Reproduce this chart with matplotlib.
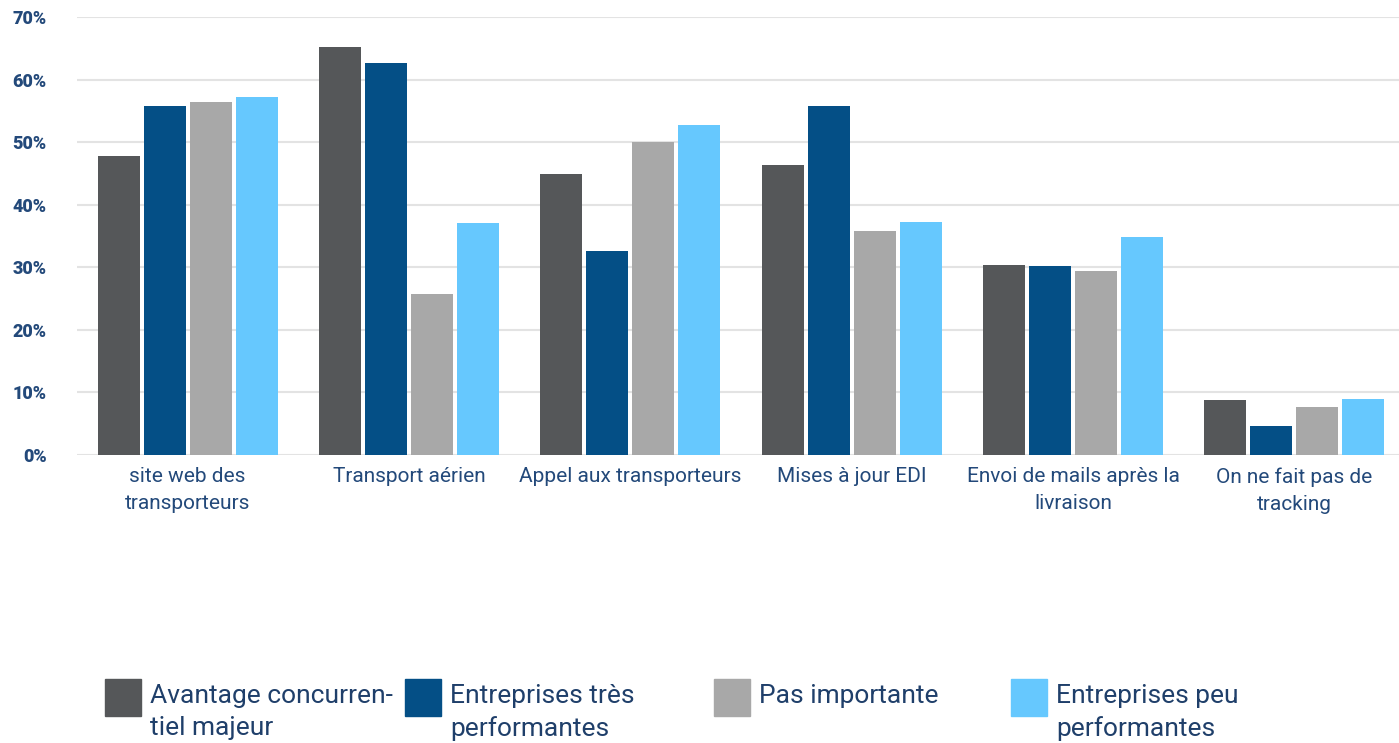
import matplotlib
matplotlib.use("Agg")
import matplotlib.pyplot as plt
import numpy as np
from matplotlib.patches import Rectangle

categories = ["site web des\ntransporteurs", "Transport aérien", "Appel aux transporteurs",
              "Mises à jour EDI", "Envoi de mails après la\nlivraison", "On ne fait pas de\ntracking"]
series_names = ["Avantage concurren-\ntiel majeur", "Entreprises très\nperformantes",
                "Pas importante", "Entreprises peu\nperformantes"]
avantage = [47.8, 65.2, 44.9, 46.4, 30.4, 8.8]
tres_perf = [55.7, 62.7, 32.6, 55.8, 30.2, 4.6]
pas_imp = [56.4, 25.7, 50.0, 35.8, 29.4, 7.7]
peu_perf = [57.2, 37.1, 52.8, 37.2, 34.9, 9.0]
yticks = [0, 10, 20, 30, 40, 50, 60, 70]

colors = ["#555759", "#044f86", "#a8a8a8", "#66c8fe"]
text_color = "#23497a"

W, H = 1399, 743
fig = plt.figure(figsize=(W / 100, H / 100), dpi=100)
left = 77 / W
right = 1405 / W
ax = fig.add_axes([left, (H - 455) / H, right - left, (455 - 17) / H])

x = np.arange(len(categories))
step = 0.208
bw = 0.19
for i, vals in enumerate([avantage, tres_perf, pas_imp, peu_perf]):
    ax.bar(x + (i - 1.5) * step, vals, width=bw, color=colors[i], zorder=3)

ax.set_xlim(-0.5, len(categories) - 0.5)
ax.set_ylim(0, 70)
ax.set_yticks(yticks)
ax.set_yticklabels([f"{v}%" for v in yticks], fontfamily="Roboto", fontweight="heavy",
                   fontsize=13, color=text_color)
ax.set_xticks(x)
ax.set_xticklabels(categories, fontfamily="Roboto", fontweight="normal", fontsize=15,
                   color=text_color, linespacing=1.5)
ax.tick_params(axis="y", length=0, pad=22)
ax.tick_params(axis="x", length=0, pad=9)
ax.grid(axis="y", color="#e3e3e3", linewidth=1.5, zorder=0)
for s in ax.spines.values():
    s.set_visible(False)

# legend
sq_x = [105, 405, 714, 1011]
for i, name in enumerate(series_names):
    fig.patches.append(Rectangle((sq_x[i] / W, (H - 716) / H), 36 / W, 37 / H,
                                 transform=fig.transFigure, color=colors[i]))
    fig.text((sq_x[i] + 45) / W, (H - 684) / H, name, fontfamily="Roboto", fontsize=19,
             color="#1f3f6a", va="top", ha="left", linespacing=1.42)

fig.savefig("out.png", dpi=100)
